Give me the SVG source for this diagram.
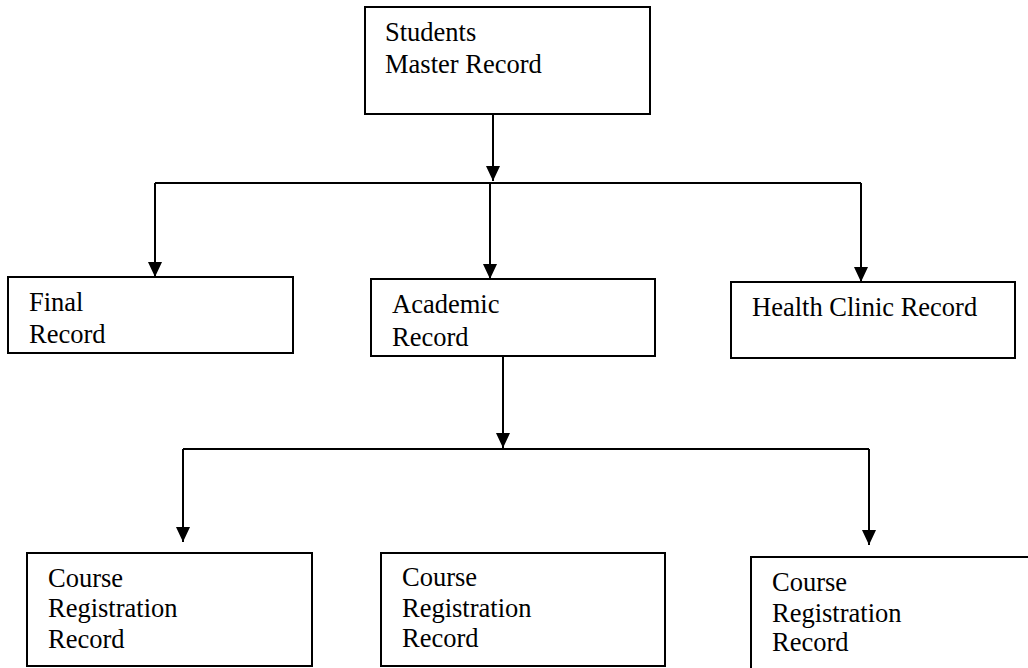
<svg xmlns="http://www.w3.org/2000/svg" width="1028" height="668" viewBox="0 0 1028 668">
  <style>
    .box { fill: #ffffff; stroke: #000000; stroke-width: 2; }
    .label { font-family: "Liberation Serif", "Times New Roman", serif; font-size: 26.5px; fill: #000000; }
    .wire { fill: none; stroke: #000000; stroke-width: 2; }
  </style>
  <defs>
    <marker id="arrow" markerUnits="userSpaceOnUse" viewBox="0 0 15 14" refX="15" refY="7" markerWidth="15" markerHeight="14" orient="auto">
      <path d="M0,0 L15,7 L0,14 z" fill="#000000"/>
    </marker>
  </defs>
  <rect width="1028" height="668" fill="#ffffff"/>

  <!-- connectors -->
  <g id="connectors">
    <path class="wire" d="M493,115 V181" marker-end="url(#arrow)"/>
    <path class="wire" d="M155,183 H861"/>
    <path class="wire" d="M155,183 V277" marker-end="url(#arrow)"/>
    <path class="wire" d="M490,183 V279" marker-end="url(#arrow)"/>
    <path class="wire" d="M861,183 V282" marker-end="url(#arrow)"/>
    <path class="wire" d="M503,357 V448" marker-end="url(#arrow)"/>
    <path class="wire" d="M183,449 H869"/>
    <path class="wire" d="M183,449 V542" marker-end="url(#arrow)"/>
    <path class="wire" d="M869,449 V545" marker-end="url(#arrow)"/>
  </g>

  <g id="students-master">
    <rect class="box" x="365" y="7" width="285" height="107"/>
    <text class="label" x="385" y="41">Students</text>
    <text class="label" x="385" y="73">Master Record</text>
  </g>

  <g id="final-record">
    <rect class="box" x="8" y="277" width="285" height="76"/>
    <text class="label" x="29" y="311">Final</text>
    <text class="label" x="29" y="343">Record</text>
  </g>

  <g id="academic-record">
    <rect class="box" x="371" y="279" width="284" height="77"/>
    <text class="label" x="392" y="313">Academic</text>
    <text class="label" x="392" y="346">Record</text>
  </g>

  <g id="health-clinic-record">
    <rect class="box" x="731" y="282" width="284" height="76"/>
    <text class="label" x="752" y="316">Health Clinic Record</text>
  </g>

  <g id="course-registration-1">
    <rect class="box" x="27" y="553" width="285" height="113"/>
    <text class="label" x="48" y="587">Course</text>
    <text class="label" x="48" y="617">Registration</text>
    <text class="label" x="48" y="648">Record</text>
  </g>

  <g id="course-registration-2">
    <rect class="box" x="381" y="553" width="284" height="113"/>
    <text class="label" x="402" y="586">Course</text>
    <text class="label" x="402" y="617">Registration</text>
    <text class="label" x="402" y="647">Record</text>
  </g>

  <g id="course-registration-3">
    <rect class="box" x="751" y="557" width="300" height="130"/>
    <text class="label" x="772" y="591">Course</text>
    <text class="label" x="772" y="622">Registration</text>
    <text class="label" x="772" y="651">Record</text>
  </g>
</svg>
